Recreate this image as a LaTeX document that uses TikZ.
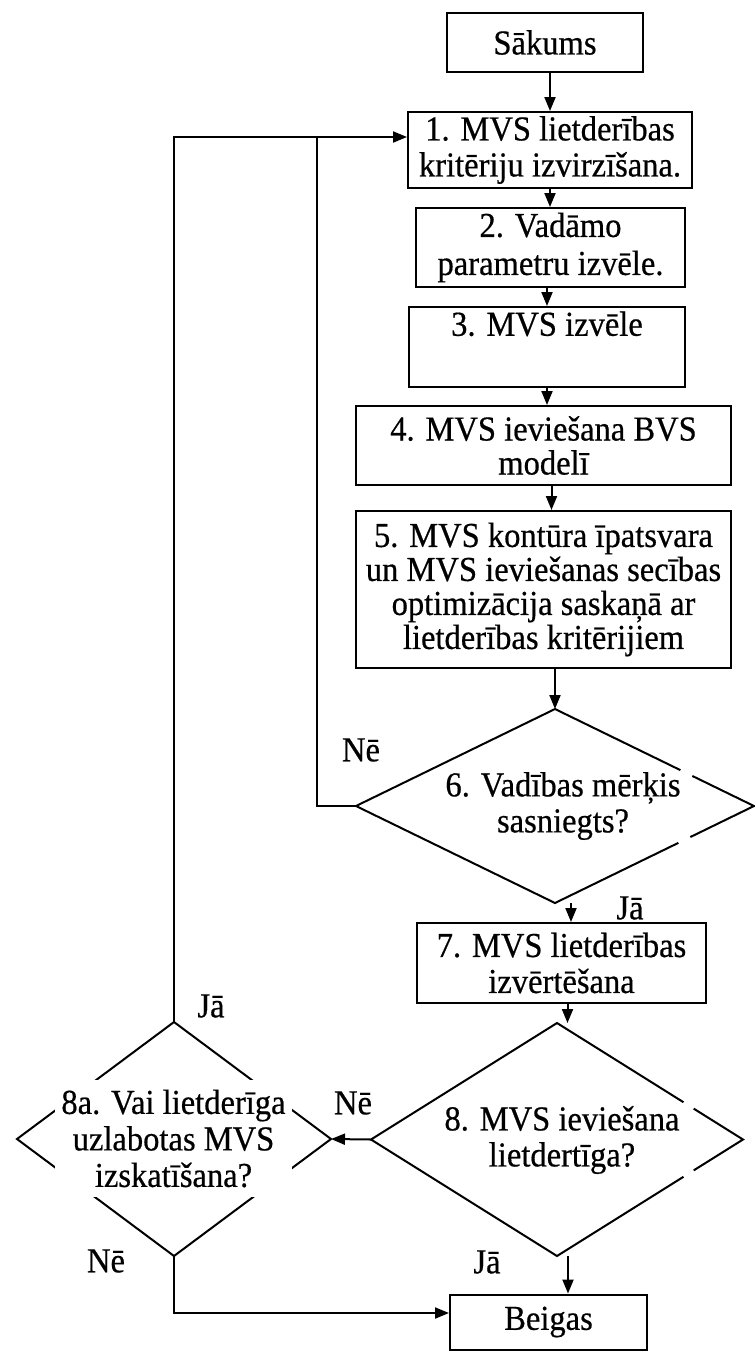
\documentclass[tikz,border=0pt]{standalone}
\usepackage{fontspec}
\setmainfont{Liberation Serif}[FakeStretch=0.93,FakeBold=0.5]
\usetikzlibrary{arrows.meta,calc}
\begin{document}
\begin{tikzpicture}[x=1pt,y=-1pt,
  line width=2pt,
  every node/.style={font=\fontsize{35}{36}\selectfont, inner sep=0pt},
  stepbox/.style={draw, rectangle, align=center},
  decision/.style={rectangle, draw=none, outer sep=0pt},
  flow/.style={-{Triangle[length=14pt,width=11pt]}},
  lbl/.style={align=center}]

% canvas
\fill[white] (0,0) rectangle (755,1353);
\useasboundingbox (0,0) rectangle (755,1353);

% process boxes
\node[stepbox, minimum width=196pt, minimum height=59pt] (start) at (545,42.5) {Sākums};
\node[stepbox, minimum width=284pt, minimum height=76pt] (b1) at (550,150) {1. MVS lietderības\\kritēriju izvirzīšana.};
\node[stepbox, minimum width=269pt, minimum height=79pt, font=\fontsize{35}{38}\selectfont] (b2) at (550.5,247.5) {2. Vadāmo\\parametru izvēle.};
\node[stepbox, minimum width=276pt, minimum height=80pt] (b3) at (547,347) {3. MVS izvēle\\\strut};
\node[stepbox, minimum width=375pt, minimum height=79pt, font=\fontsize{35}{34}\selectfont] (b4) at (543.5,445.5) {4. MVS ieviešana BVS\\modelī};
\node[stepbox, minimum width=375pt, minimum height=157pt, font=\fontsize{35}{34}\selectfont] (b5) at (543.5,589.5) {5. MVS kontūra īpatsvara\\un MVS ieviešanas secības\\optimizācija saskaņā ar\\lietderības kritērijiem};
\node[stepbox, minimum width=289pt, minimum height=80pt] (b7) at (561.5,963) {7. MVS lietderības\\izvērtēšana};
\node[stepbox, minimum width=197pt, minimum height=55pt] (stop) at (548.5,1322) {Beigas};

% decision 6
\node[decision, minimum width=398pt, minimum height=194pt] (d6) at (555,806) {};
\draw ($(d6.north)!0.69!(d6.east)$) -- (d6.east) -- ($(d6.east)!0.32!(d6.south)$);
\draw ($(d6.east)!0.38!(d6.south)$) -- (d6.south) -- (d6.west) -- (d6.north) -- ($(d6.north)!0.63!(d6.east)$);
\node[lbl] (t6) at (563,806) {6. Vadības mērķis\\sasniegts?};

% decision 8
\node[decision, minimum width=372pt, minimum height=233pt] (d8) at (557,1139.5) {};
\draw ($(d8.north)!0.735!(d8.east)$) -- (d8.east) -- ($(d8.east)!0.265!(d8.south)$);
\draw ($(d8.east)!0.32!(d8.south)$) -- (d8.south) -- (d8.west) -- (d8.north) -- ($(d8.north)!0.68!(d8.east)$);
\node[lbl] (t8) at (562,1140) {8. MVS ieviešana\\lietdertīga?};

% decision 8a
\node[decision, minimum width=314pt, minimum height=234pt] (d8a) at (174,1139) {};
\draw (d8a.north) -- (d8a.east) -- (d8a.south) -- (d8a.west) -- cycle;
\node[lbl, fill=white, minimum width=237pt, minimum height=117pt, font=\fontsize{35}{36.5}\selectfont] (t8a) at (173.5,1138.5) {8a. Vai lietderīga\\uzlabotas MVS\\izskatīšana?};

% branch labels
\node (l6no) at (361,750) {Nē};
\node (l6yes) at (630,908) {Jā};
\node (l8ayes) at (211,1006) {Jā};
\node (l8no) at (353,1103) {Nē};
\node (l8ano) at (106,1261) {Nē};
\node (l8yes) at (487,1262) {Jā};

% main flow
\draw[flow] (b1.north |- start.south) -- (b1.north);
\draw[flow] (b1.south) -- (b1.south |- b2.north);
\draw[flow] (b3.north |- b2.south) -- (b3.north);
\draw[flow] (b3.south) -- (b3.south |- b4.north);
\draw[flow] ([xshift=8pt]b4.south) -- ([xshift=8pt]b4.south |- b5.north);
\draw[flow] (d6.north |- b5.south) -- (d6.north);
\draw[flow] ([xshift=16pt]d6.south) -- ([xshift=16pt]d6.south |- b7.north);
\draw[flow] ([xshift=6pt]b7.south) -- ([xshift=6pt]b7.south |- d8.north);
\draw[flow] ([xshift=11pt]d8.south) -- ([xshift=11pt]d8.south |- stop.north);
\draw[flow] (d8.west) -- (d8a.east);

% feedback loops
\draw[flow] (d8a.north) |- ([yshift=13pt]b1.west);
\draw (d6.west) -- ++(-39,0) |- ($([yshift=13pt]b1.west)+(-30,0)$);
\draw[flow] (d8a.south) |- ([yshift=9pt]stop.west);

\end{tikzpicture}
\end{document}
